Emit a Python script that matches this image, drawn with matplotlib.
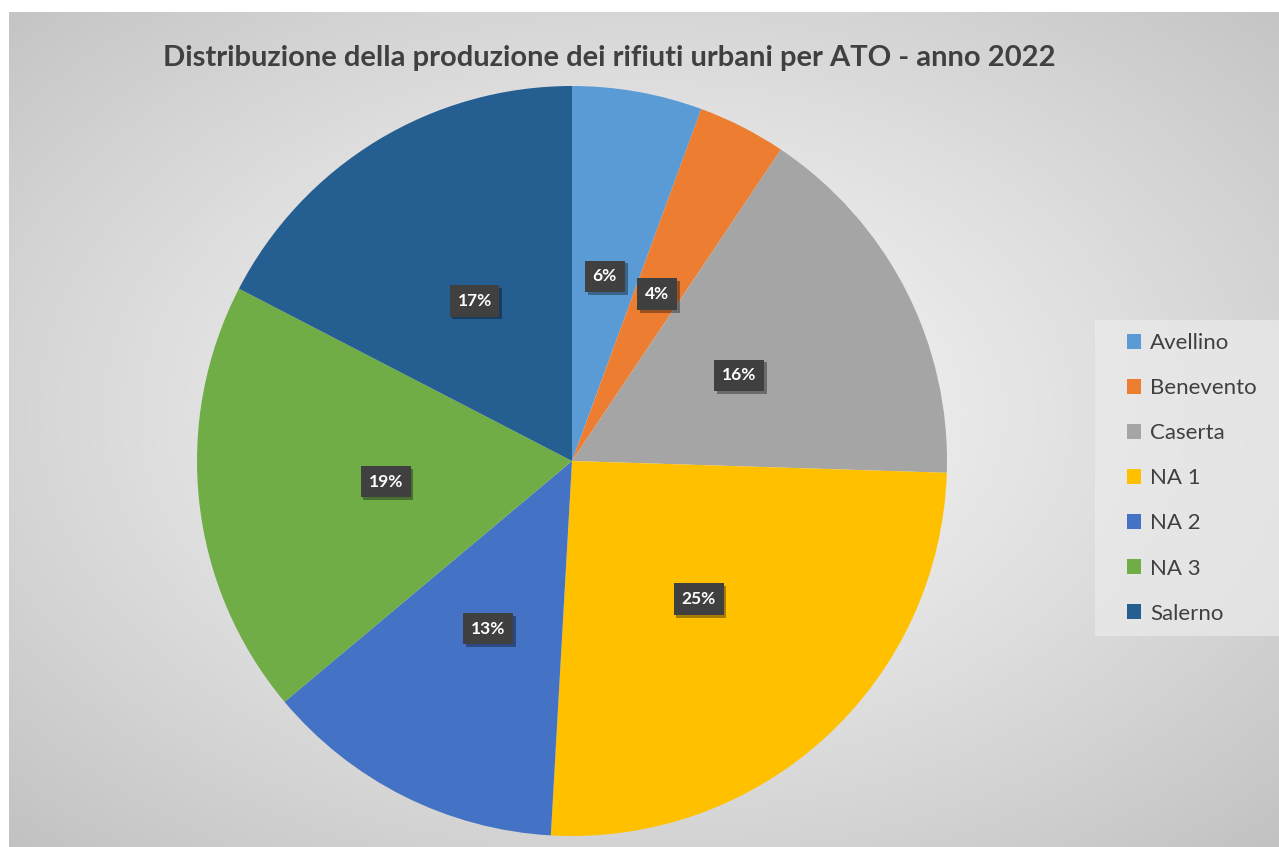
import numpy as np
import matplotlib
matplotlib.use("Agg")
import matplotlib.pyplot as plt
import matplotlib.patheffects as pe
from matplotlib.patches import Patch, Rectangle

categorie = ["Avellino", "Benevento", "Caserta", "NA 1", "NA 2", "NA 3", "Salerno"]
percentuali = [5.6, 3.8, 16.1, 25.4, 13.0, 18.7, 17.4]
colori = ["#5B9BD5", "#ED7D31", "#A5A5A5", "#FFC000", "#4472C4", "#70AD47", "#255E91"]
titolo = "Distribuzione della produzione dei rifiuti urbani per ATO - anno 2022"

plt.rcParams['font.family'] = ['Lato', 'DejaVu Sans']

W, H = 1279, 847
fig = plt.figure(figsize=(W / 100, H / 100), dpi=100)
fig.patch.set_facecolor("white")

# sfondo con gradiente radiale
bg = fig.add_axes([9 / W, 0, 1 - 9 / W, (H - 12) / H])
bw, bh = W - 9, H - 12
yy, xx = np.mgrid[0:bh, 0:bw]
d = np.sqrt(((xx - bw * 0.5) / (bw * 0.5)) ** 2 + ((yy - bh * 0.48) / (bh * 0.5)) ** 2)
d = d / d.max()
val = 0.97 - 0.21 * d ** 1.2
bg.imshow(np.dstack([val, val, val]), aspect="auto", extent=[0, 1, 0, 1])
bg.set_axis_off()

# torta
cx, cy, r = 572, H - 461, 375
ax = fig.add_axes([(cx - r) / W, (cy - r) / H, 2 * r / W, 2 * r / H])
wedges, texts, autotexts = ax.pie(percentuali, colors=colori, startangle=90,
                                  counterclock=False, autopct="%.0f%%",
                                  pctdistance=0.5,
                                  textprops=dict(color="white", fontsize=12.5, fontweight="bold"))
ax.set_xlim(-1, 1)
ax.set_ylim(-1, 1)
ax.set_aspect("auto")
ax.set_axis_off()

for t in autotexts:
    t.set_bbox(dict(boxstyle="square,pad=0.45", facecolor="#404040", edgecolor="none"))
    t.get_bbox_patch().set_path_effects([pe.withSimplePatchShadow(offset=(2, -2), shadow_rgbFace="black", alpha=0.35)])

fig.text(609 / W, 1 - 58 / H, titolo, ha="center", va="center",
         fontsize=21, fontweight="bold", color="#404040")

# riquadro della legenda
fig.patches.append(Rectangle((1095 / W, 1 - 636 / H), (W - 1095) / W, 316 / H,
                             transform=fig.transFigure, facecolor="#ebebeb",
                             alpha=0.7, edgecolor="none", zorder=1))

handles = [Patch(facecolor=c, edgecolor="none") for c in colori]
leg = fig.legend(handles, categorie, loc="upper left",
                 bbox_to_anchor=(1127 / W, 1 - 333 / H),
                 fontsize=16, frameon=False,
                 handlelength=0.65, handleheight=0.65, handletextpad=0.4,
                 labelspacing=1.13, borderpad=0, borderaxespad=0)
for t in leg.get_texts():
    t.set_color("#404040")

fig.savefig("out.png", dpi=100)
